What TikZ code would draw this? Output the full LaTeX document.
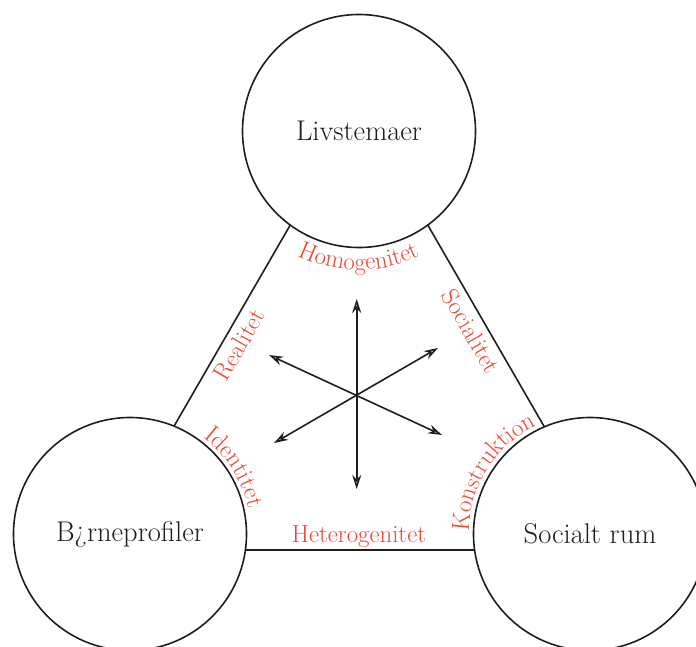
\documentclass[tikz,border=0pt]{standalone}
\usetikzlibrary{arrows.meta,decorations.text}
\definecolor{labelred}{RGB}{236,72,52}
\definecolor{ink}{RGB}{30,30,30}
\begin{document}
\begin{tikzpicture}[x=1pt,y=1pt,
  edge/.style={draw=ink,line width=1.6pt},
  bubble/.style={circle,draw=ink,line width=1.6pt,fill=white,minimum size=233pt,inner sep=0pt,text=ink,font=\fontsize{28.5}{33}\selectfont},
  edgelabel/.style={text=labelred,font=\fontsize{24.8}{29}\selectfont,inner sep=0pt},
  star/.style={draw=ink,line width=1.6pt,{Stealth[open,length=14pt,width=9pt,inset=4.5pt]}-{Stealth[open,length=14pt,width=9pt,inset=4.5pt]}},
  arclabel/.style={decorate,decoration={text along path,text align=center,text={|\color{labelred}\fontsize{24.8}{29}\selectfont|#1}}}
]
\useasboundingbox (0,0) rectangle (696,-646);

% triangle
\coordinate (A) at (359,-106);
\coordinate (B) at (102.5,-550);
\coordinate (C) at (615.5,-550);
\draw[edge] (A) -- (B) -- (C) -- cycle;
\path (A) -- (B) node[edgelabel,pos=0.52,rotate=60,anchor=north,inner sep=6.5pt] (lreal) {Realitet};
\path (A) -- (C) node[edgelabel,pos=0.49,rotate=-60,anchor=north,inner sep=6.5pt] (lsoc) {Socialitet};
\path (B) -- (C) node[edgelabel,pos=0.5,anchor=base,yshift=8pt] (lhet) {Heterogenitet};

% circles
\node[bubble] (T) at (359,-131) {Livstemaer};
\node[bubble] (L) at (130,-534) {B¿rneprofiler};
\node[bubble] (R) at (590,-534) {Socialt rum};

% curved labels
\path[arclabel=Homogenitet] (T.center) ++(225:139) arc[start angle=225,end angle=315,radius=139pt];
\path[arclabel=Identitet] (L.center) ++(75:121) arc[start angle=75,end angle=-10,radius=121pt];
\path[arclabel=Konstruktion] (R.center) ++(190:121) arc[start angle=190,end angle=105,radius=121pt];

% star of arrows
\coordinate (S) at (356.7,-395);
\coordinate (su) at (356.7,-299);
\coordinate (sd) at (356.7,-489);
\coordinate (sul) at (269,-355);
\coordinate (slr) at (442,-435);
\coordinate (sur) at (438,-348);
\coordinate (sll) at (274,-443);
\draw[star] (su) -- (sd);
\draw[star] (sul) -- (slr);
\draw[star] (sur) -- (sll);
\end{tikzpicture}
\end{document}
